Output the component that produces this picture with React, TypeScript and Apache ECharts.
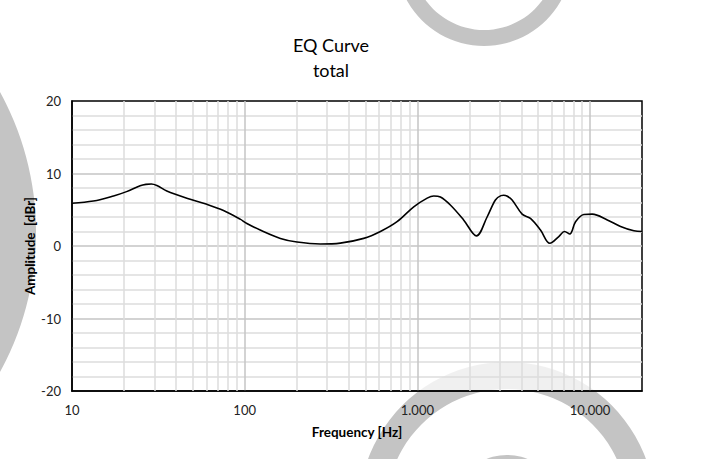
import React, { useEffect, useRef } from "react";
import * as echarts from "echarts";

const titleLines = ["EQ Curve", "total"];
const xAxisName = "Frequency [Hz]";
const yAxisName = "Amplitude  [dBr]";

const freqs = [
  10, 13.3, 17.4, 20.7, 24.8, 26.8, 28.8, 31, 35.4, 46.2, 60.4, 75.4, 94.2, 103,
  123, 161, 201, 274, 358, 489, 611, 763, 953, 1140, 1245, 1360, 1553, 1853,
  2200, 2535, 2832, 3050, 3162, 3300, 3538, 4045, 4519, 5165, 5848, 6595, 7116,
  7638, 8245, 9208, 10300, 12590, 15030, 17950, 20000,
];
const amplitudes = [
  5.9, 6.2, 6.9, 7.5, 8.3, 8.5, 8.55, 8.35, 7.6, 6.6, 5.75, 4.9, 3.7, 3.1, 2.2,
  1.05, 0.55, 0.28, 0.4, 1.05, 2.0, 3.35, 5.4, 6.6, 6.9, 6.75, 5.65, 3.6, 1.4,
  4.0, 6.35, 6.95, 7.0, 6.9, 6.35, 4.4, 3.8, 2.2, 0.37, 1.3, 2.0, 1.65, 3.35,
  4.35, 4.4, 3.6, 2.7, 2.1, 2.0,
];

const minorFreqs = [
  20, 30, 40, 50, 60, 70, 80, 90, 200, 300, 400, 500, 600, 700, 800, 900, 2000,
  3000, 4000, 5000, 6000, 7000, 8000, 9000,
];
const majorFreqLabels: Record<number, string> = {
  10: "10",
  100: "100",
  1000: "1.000",
  10000: "10.000",
};

const FONT = "Lato, 'Open Sans', sans-serif";
const DECO = "#c4c4c4";

export default function App() {
  const ref = useRef<HTMLDivElement>(null);
  useEffect(() => {
    if (!ref.current) return;
    const chart = echarts.init(ref.current, undefined, { renderer: "svg" });
    chart.setOption({
      animation: false,
      backgroundColor: "#fff",
      textStyle: { fontFamily: FONT },
      graphic: [
        { type: "circle", z: -10, shape: { cx: -254, cy: 232, r: 290 }, style: { fill: DECO } },
        { type: "ring", z: -10, shape: { cx: 484, cy: -42, r: 88, r0: 72 }, style: { fill: DECO } },
        { type: "ring", z: -10, shape: { cx: 507, cy: 510, r: 148, r0: 121 }, style: { fill: DECO } },
        { type: "circle", z: -10, shape: { cx: 507, cy: 510, r: 55 }, style: { fill: DECO } },
        {
          type: "text",
          z: 10,
          style: {
            text: titleLines.join("\n"),
            x: 331,
            y: 32,
            align: "center",
            fill: "#000",
            font: `18px ${FONT}`,
            lineHeight: 25,
          },
        },
        {
          type: "text",
          z: 10,
          x: 30,
          y: 246,
          rotation: Math.PI / 2,
          style: {
            text: yAxisName,
            align: "center",
            verticalAlign: "middle",
            fill: "#000",
            font: `bold 13.5px ${FONT}`,
          },
        },
      ],
      grid: {
        left: 72,
        top: 101,
        width: 570,
        height: 290,
        show: true,
        backgroundColor: "rgba(255,255,255,0.75)",
        borderColor: "#000",
        borderWidth: 1.5,
      },
      xAxis: {
        type: "log",
        logBase: 10,
        min: 10,
        max: 20000,
        name: xAxisName,
        nameLocation: "middle",
        nameGap: 34,
        nameTextStyle: { fontWeight: "bold", fontSize: 13.5, color: "#000", fontFamily: FONT },
        axisLine: { show: true, onZero: false, lineStyle: { color: "#000", width: 1.5 } },
        axisTick: { show: false },
        axisLabel: {
          margin: 12,
          fontSize: 13,
          color: "#222",
          fontFamily: FONT,
          showMaxLabel: false,
          formatter: (v: number) => majorFreqLabels[Math.round(v)] ?? "",
        },
        splitLine: {
          show: true,
          showMinLine: false,
          showMaxLine: false,
          lineStyle: { color: "#c4c4c4", width: 1.5 },
        },
      },
      yAxis: {
        type: "value",
        min: -20,
        max: 20,
        interval: 10,
        axisLine: { show: true, lineStyle: { color: "#000", width: 1.5 } },
        axisTick: { show: false },
        axisLabel: { margin: 11, fontSize: 13, color: "#222", fontFamily: FONT },
        splitLine: {
          show: true,
          showMinLine: false,
          showMaxLine: false,
          lineStyle: { color: "#c4c4c4", width: 1.5 },
        },
        minorTick: { show: false, splitNumber: 5 },
        minorSplitLine: { show: true, lineStyle: { color: "#dcdcdc", width: 1.5 } },
      },
      series: [
        {
          type: "line",
          data: [],
          z: 1,
          silent: true,
          markLine: {
            silent: true,
            symbol: ["none", "none"],
            label: { show: false },
            lineStyle: { color: "#dcdcdc", width: 1.5, type: "solid" },
            data: minorFreqs.map((f) => ({ xAxis: f })),
          },
        },
        {
          type: "line",
          z: 5,
          data: freqs.map((f, i) => [f, amplitudes[i]]),
          smooth: 0.35,
          showSymbol: false,
          lineStyle: { color: "#000", width: 1.6 },
        },
      ],
    });
    return () => chart.dispose();
  }, []);
  return (
    <div
      ref={ref}
      style={{ position: "fixed", left: 0, top: 0, width: 705, height: 459 }}
    />
  );
}
